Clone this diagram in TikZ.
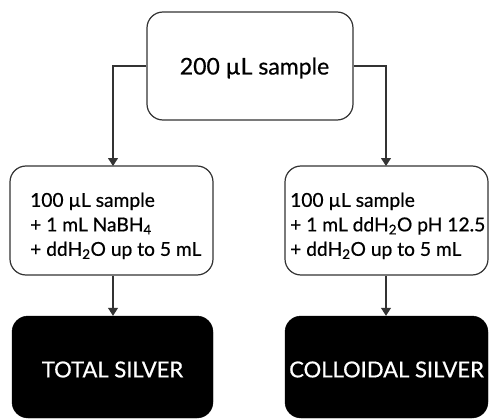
\documentclass[tikz,border=0pt]{standalone}
\usepackage{fontspec}
\setmainfont{Lato}
\usetikzlibrary{arrows.meta}
\begin{document}
\begin{tikzpicture}[x=1pt,y=1pt,
  box/.style={draw=black!80,line width=1.2pt,rounded corners=16pt,minimum width=#1,minimum height=108pt,inner sep=0pt},
  blackbox/.style={fill=black,draw=black,rounded corners=16pt,minimum width=201pt,minimum height=102pt,inner sep=0pt},
  conn/.style={draw=black!80,line width=1.2pt,-{Triangle[length=8pt,width=10pt]}},
  txt/.style={align=left,anchor=north west,inner sep=0pt,font=\fontsize{19.2}{24.5}\selectfont\addfontfeature{FakeBold=0.6}},
  wtxt/.style={text=white,inner sep=0pt,font=\fontsize{22}{26}\selectfont\addfontfeature{FakeBold=0.6}}
]
\useasboundingbox (0,0) rectangle (490,-420);
\node[box=206pt] (top) at (250,-66) {};
\node[font=\fontsize{23}{26}\selectfont\addfontfeature{FakeBold=0.6},inner sep=0pt] (toptxt) at (254.5,-68) {200 µL sample};
\node[box=203pt,minimum height=109pt] (lbox) at (111.5,-220.5) {};
\node[box=203pt,minimum height=109pt] (rbox) at (386.5,-220.5) {};
\node[txt] (ltxt) at (30,-192.5) {100 µL sample\\+ 1 mL NaBH\textsubscript{4}\\+ ddH\textsubscript{2}O up to 5 mL};
\node[txt] (rtxt) at (290,-192.5) {100 µL sample\\+ 1 mL ddH\textsubscript{2}O pH 12.5\\+ ddH\textsubscript{2}O up to 5 mL};
\node[blackbox] (lres) at (112.5,-367) {};
\node[blackbox,minimum width=203pt] (rres) at (386.5,-367) {};
\node[wtxt] (lrestxt) at ([yshift=-2.5pt]lres.center) {TOTAL SILVER};
\node[wtxt] (rrestxt) at ([yshift=-2.5pt]rres.center) {COLLOIDAL SILVER};
\coordinate (la) at (113,-166);
\coordinate (ra) at (386,-166);
\draw[conn] (top.west) -| (la);
\draw[conn] (top.east) -| (ra);
\draw[conn] (lbox.south -| la) -- (lres.north -| la);
\draw[conn] (rbox.south -| ra) -- (rres.north -| ra);
\end{tikzpicture}
\end{document}
